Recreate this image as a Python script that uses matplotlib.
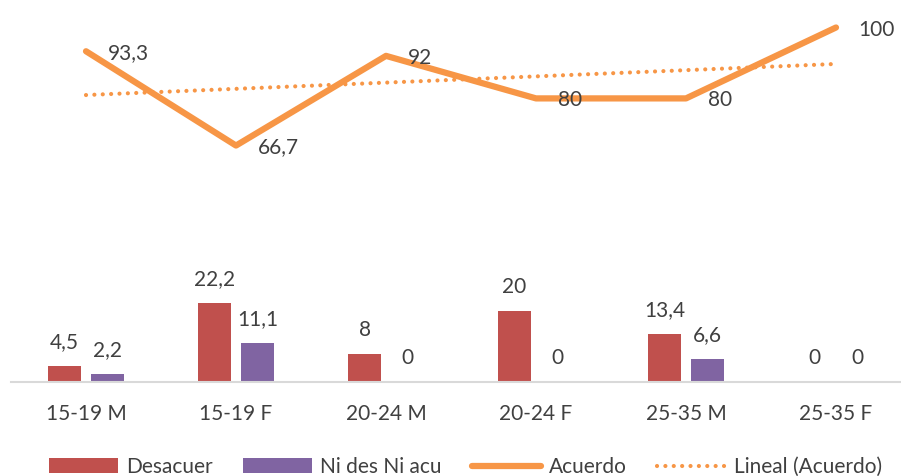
import numpy as np
import matplotlib
matplotlib.use("Agg")
import matplotlib.pyplot as plt

categories = ["15-19 M", "15-19 F", "20-24 M", "20-24 F", "25-35 M", "25-35 F"]
desacuer = [4.5, 22.2, 8, 20, 13.4, 0]
ni_des_ni_acu = [2.2, 11.1, 0, 0, 6.6, 0]
acuerdo = [93.3, 66.7, 92, 80, 80, 100]
desacuer_lbl = ["4,5", "22,2", "8", "20", "13,4", "0"]
ni_lbl = ["2,2", "11,1", "0", "0", "6,6", "0"]
acuerdo_lbl = ["93,3", "66,7", "92", "80", "80", "100"]

RED = "#C0504D"
PURPLE = "#8064A2"
ORANGE = "#F79646"
TXT = "#404040"

plt.rcParams['font.family'] = ['Lato', 'DejaVu Sans']
FS = 15

W, H = 901, 476
fig = plt.figure(figsize=(W / 100, H / 100), dpi=100)
cat_px = 150.0
left_px, base_px = 11, 382
ymax = 105
px_per_unit = 3.545
top_px = base_px - ymax * px_per_unit
ax = fig.add_axes([left_px / W, (H - base_px) / H, (W - left_px) / W, (base_px - top_px) / H])
ax.set_xlim(-0.5, -0.5 + (W - left_px) / cat_px)
ax.set_ylim(0, ymax)

x = np.arange(len(categories))
bw = 0.225
off = 0.143
b1 = ax.bar(x - off, desacuer, bw, color=RED, label="Desacuer", zorder=2)
b2 = ax.bar(x + off, ni_des_ni_acu, bw, color=PURPLE, label="Ni des Ni acu", zorder=2)
l1, = ax.plot(x, acuerdo, color=ORANGE, lw=4.5, solid_joinstyle='round', solid_capstyle='round',
              label="Acuerdo", zorder=3)
coef = np.polyfit(x, acuerdo, 1)
trend = np.polyval(coef, x)
l2, = ax.plot(x, trend, color=ORANGE, lw=3, linestyle=(0, (0.01, 2.0)), dash_capstyle='round',
              label="Lineal (Acuerdo)", zorder=3)

for xi, v, s in zip(x - off, desacuer, desacuer_lbl):
    ax.annotate(s, (xi, v), xytext=(0, 24), textcoords='offset pixels', ha='center', va='center',
                fontsize=FS, color=TXT)
for xi, v, s in zip(x + off, ni_des_ni_acu, ni_lbl):
    ax.annotate(s, (xi, v), xytext=(0, 24), textcoords='offset pixels', ha='center', va='center',
                fontsize=FS, color=TXT)
for xi, v, s in zip(x, acuerdo, acuerdo_lbl):
    ax.annotate(s, (xi, v), xytext=(22, -2), textcoords='offset pixels', ha='left', va='center',
                fontsize=FS, color=TXT)

for sp in ["top", "right", "left"]:
    ax.spines[sp].set_visible(False)
ax.spines["bottom"].set_color("#D9D9D9")
ax.spines["bottom"].set_linewidth(1.5)
ax.set_yticks([])
ax.set_xticks(x)
ax.set_xticklabels(categories, fontsize=FS, color=TXT)
ax.tick_params(axis='x', length=0, pad=16)

leg = fig.legend([b1, b2, l1, l2], ["Desacuer", "Ni des Ni acu", "Acuerdo", "Lineal (Acuerdo)"],
                 loc='center', bbox_to_anchor=(466 / W, 1 - 467 / H),
                 ncol=4, frameon=False, fontsize=FS, handlelength=3.3, handleheight=0.7,
                 handletextpad=0.4, columnspacing=1.45, labelcolor=TXT)

fig.savefig("out.png", dpi=100)
